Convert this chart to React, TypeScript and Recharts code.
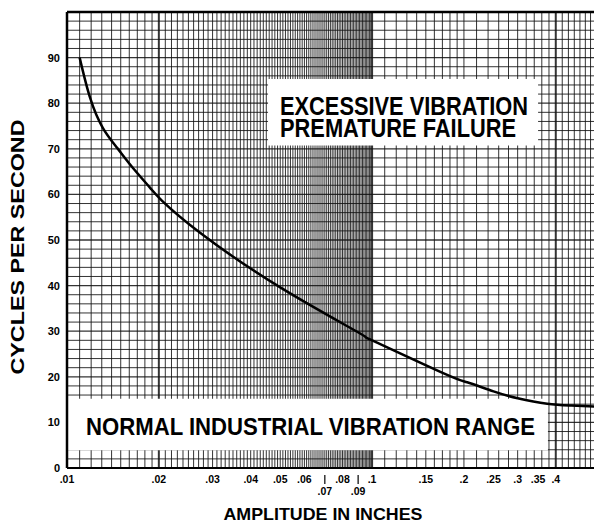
import React from 'react';
import { LineChart, Line, XAxis, YAxis, ReferenceLine, ReferenceArea } from 'recharts';

// Curve: amplitude (inches) vs cycles per second
const curveAmplitude = [0.011, 0.0119, 0.0131, 0.0146, 0.0164, 0.0187, 0.0205, 0.0273, 0.05, 0.0914, 0.1, 0.171, 0.205, 0.25, 0.3, 0.375, 0.45, 0.56];
const curveCycles = [90, 81.2, 74.6, 70.2, 65.9, 61.5, 58.6, 51.6, 39.6, 29.5, 28, 20.8, 18.8, 16.8, 15.3, 14.1, 13.7, 13.4];

// X axis ticks
const xTickValues = [0.01, 0.02, 0.03, 0.04, 0.05, 0.06, 0.07, 0.08, 0.09, 0.1, 0.15, 0.2, 0.25, 0.3, 0.35, 0.4];
const xTickLabels = ['.01', '.02', '.03', '.04', '.05', '.06', '.07', '.08', '.09', '.1', '.15', '.2', '.25', '.3', '.35', '.4'];
const xLowerRowTicks = [0.07, 0.09];

// Y axis ticks
const yTickValues = [0, 10, 20, 30, 40, 50, 60, 70, 80, 90];
const yTickLabels = ['0', '10', '20', '30', '40', '50', '60', '70', '80', '90'];

// Log-paper rulings: [from, to, step]
const xGridSegments: [number, number, number][] = [
  [0.011, 0.099, 0.001],
  [0.1, 0.2, 0.01],
  [0.2, 0.4, 0.02],
  [0.4, 0.56, 0.02],
];
const xHeavyLines = [0.02, 0.1, 0.4];
const yGridStep = 2;
const yMax = 100;
const xDomain: [number, number] = [0.01, 0.567];

// Text boxes
const upperBox = { x1: 0.0456, x2: 0.35, y1: 70.7, y2: 85.3, lines: ['EXCESSIVE VIBRATION', 'PREMATURE FAILURE'] };
const lowerBox = { x1: 0.01, x2: 0.377, y1: 3.9, y2: 15.2, lines: ['NORMAL INDUSTRIAL VIBRATION RANGE'] };

const data = curveAmplitude.map((a, i) => ({ amp: a, cps: curveCycles[i] }));

const buildGrid = () => {
  const out: number[] = [];
  xGridSegments.forEach(([from, to, step]) => {
    const n = Math.round((to - from) / step);
    for (let i = 0; i <= n; i++) {
      const v = Math.round((from + i * step) * 100000) / 100000;
      if (!out.includes(v) && v > xDomain[0] && v < xDomain[1]) out.push(v);
    }
  });
  return out;
};
const xGrid = buildGrid();
const yGrid: number[] = [];
for (let v = yGridStep; v < yMax; v += yGridStep) yGrid.push(v);

const FONT = '"Liberation Sans", Arial, Helvetica, sans-serif';

const XTick = (props: any) => {
  const { x, y, payload } = props;
  const v = payload.value;
  const idx = xTickValues.findIndex((t) => Math.abs(t - v) < 1e-9);
  const label = idx >= 0 ? xTickLabels[idx] : '';
  const lower = xLowerRowTicks.some((t) => Math.abs(t - v) < 1e-9);
  const style = { fontFamily: FONT, fontWeight: 700, fontSize: 10.5, fill: '#000' } as any;
  if (lower) {
    return (
      <g>
        <line x1={x} x2={x} y1={y + 7} y2={y + 16} stroke="#000" strokeWidth={1.2} />
        <text x={x} y={y + 27} textAnchor="middle" style={style}>{label}</text>
      </g>
    );
  }
  return <text x={x} y={y + 15} textAnchor="middle" style={style}>{label}</text>;
};

const YTick = (props: any) => {
  const { x, y, payload } = props;
  const idx = yTickValues.indexOf(payload.value);
  if (idx < 0) return null;
  return (
    <text x={x - 7} y={y + 4} textAnchor="end" style={{ fontFamily: FONT, fontWeight: 700, fontSize: 11, fill: '#000' }}>
      {yTickLabels[idx]}
    </text>
  );
};

const boxLabel = (lines: string[], dx: number, baseline: number, lineGap: number, fontSize: number, lengths: number[]) => (props: any) => {
  const vb = props.viewBox || {};
  return (
    <text style={{ fontFamily: FONT, fontWeight: 700, fontSize, fill: '#000' }}>
      {lines.map((t, i) => (
        <tspan
          key={i}
          x={vb.x + dx}
          y={vb.y + baseline + i * lineGap}
          textLength={lengths[i]}
          lengthAdjust="spacingAndGlyphs"
        >
          {t}
        </tspan>
      ))}
    </text>
  );
};

const yTitle = (props: any) => {
  const vb = props.viewBox || {};
  const cx = vb.x + 16;
  const cy = vb.y + vb.height / 2 + 7;
  return (
    <text
      x={cx}
      y={cy}
      transform={`rotate(-90 ${cx} ${cy})`}
      textAnchor="middle"
      textLength={255}
      lengthAdjust="spacingAndGlyphs"
      style={{ fontFamily: FONT, fontWeight: 700, fontSize: 18, fill: '#000' }}
    >
      CYCLES PER SECOND
    </text>
  );
};

const xTitle = (props: any) => {
  const vb = props.viewBox || {};
  return (
    <text
      x={vb.x + 256}
      y={vb.y + 52}
      textAnchor="middle"
      textLength={199}
      lengthAdjust="spacingAndGlyphs"
      style={{ fontFamily: FONT, fontWeight: 700, fontSize: 17, fill: '#000' }}
    >
      AMPLITUDE IN INCHES
    </text>
  );
};

export default function App() {
  return (
    <div style={{ width: 594, height: 518, background: '#fff' }}>
      <LineChart width={594} height={518} data={data} margin={{ top: 4, right: 0, bottom: 0, left: 0 }}>
        <XAxis
          dataKey="amp"
          type="number"
          scale="log"
          domain={xDomain}
          allowDataOverflow
          ticks={xTickValues}
          tick={<XTick />}
          tickLine={false}
          tickSize={0}
          tickMargin={0}
          interval={0}
          height={58}
          axisLine={{ stroke: '#000', strokeWidth: 2 }}
          label={xTitle}
        />
        <YAxis
          type="number"
          domain={[0, yMax]}
          ticks={yTickValues}
          tick={<YTick />}
          tickLine={false}
          tickSize={0}
          tickMargin={0}
          interval={0}
          width={59}
          axisLine={{ stroke: '#000', strokeWidth: 2.5 }}
          label={yTitle}
        />
        {yGrid.map((v) => (
          <ReferenceLine key={'h' + v} y={v} stroke="#111" strokeWidth={v % 10 === 0 ? 1.3 : 1} strokeOpacity={0.85} zIndex={10} />
        ))}
        {xGrid.map((v) => (
          <ReferenceLine
            key={'v' + v}
            x={v}
            stroke="#111"
            strokeWidth={xHeavyLines.some((h) => Math.abs(h - v) < 1e-9) ? 2 : 1}
            strokeOpacity={0.85}
            zIndex={10}
          />
        ))}
        <ReferenceArea
          x1={upperBox.x1}
          x2={upperBox.x2}
          y1={upperBox.y1}
          y2={upperBox.y2}
          fill="#fff"
          fillOpacity={1}
          stroke="none"
          zIndex={20}
          label={boxLabel(upperBox.lines, 12, 36, 22, 25, [248, 236])}
        />
        <ReferenceArea
          x1={lowerBox.x1}
          x2={lowerBox.x2}
          y1={lowerBox.y1}
          y2={lowerBox.y2}
          fill="#fff"
          fillOpacity={1}
          stroke="none"
          zIndex={20}
          label={boxLabel(lowerBox.lines, 19, 36.5, 0, 23, [449])}
        />
        <ReferenceLine y={yMax} stroke="#000" strokeWidth={2.5} zIndex={30} />
        <Line
          type="natural"
          dataKey="cps"
          stroke="#000"
          strokeWidth={2.5}
          dot={false}
          activeDot={false}
          isAnimationActive={false}
        />
      </LineChart>
    </div>
  );
}
